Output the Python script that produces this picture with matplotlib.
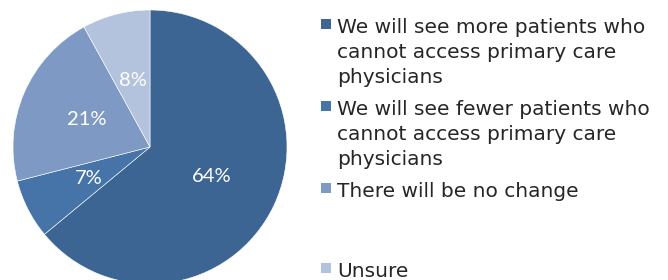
import matplotlib.pyplot as plt
from matplotlib.patches import Rectangle

# survey answers
labels = [
    "We will see more patients who\ncannot access primary care\nphysicians",
    "We will see fewer patients who\ncannot access primary care\nphysicians",
    "There will be no change",
    "Unsure",
]
values = [64, 7, 21, 8]
colors = ["#3D6594", "#4674A9", "#7E9AC4", "#B3C2DD"]

W, H = 668, 280
fig = plt.figure(figsize=(W / 100, H / 100), dpi=100)

# pie axes, placed in pixels (center 150,147 from top, radius 137)
cx, cy, r = 150, 147, 137
ax = fig.add_axes([(cx - r) / W, (H - cy - r) / H, 2 * r / W, 2 * r / H])
wedges, texts, autotexts = ax.pie(
    values, colors=colors, startangle=90, counterclock=False,
    autopct="%d%%", pctdistance=0.5, radius=1,
    wedgeprops=dict(edgecolor="white", linewidth=0.4),
    textprops=dict(color="white", fontsize=14.5, family="Lato"),
)
ax.set_xlim(-1, 1)
ax.set_ylim(-1, 1)
ax.set_aspect("equal")
ax.axis("off")

# legend drawn by hand so the odd Excel spacing can be kept
item_top = [33, 115, 197, 277]  # baseline of first line, px from top
line_h = 25
for lab, col, yb in zip(labels, colors, item_top):
    fig.patches.append(Rectangle(((321) / W, (H - yb + 4) / H), 10 / W, 10 / H,
                                 transform=fig.transFigure, facecolor=col,
                                 edgecolor="none"))
    for i, line in enumerate(lab.split("\n")):
        fig.text(337 / W, (H - yb - i * line_h) / H, line, fontsize=14.5,
                 family="DejaVu Sans", color="#262626", va="baseline", ha="left")

fig.savefig("out.png", dpi=100)
